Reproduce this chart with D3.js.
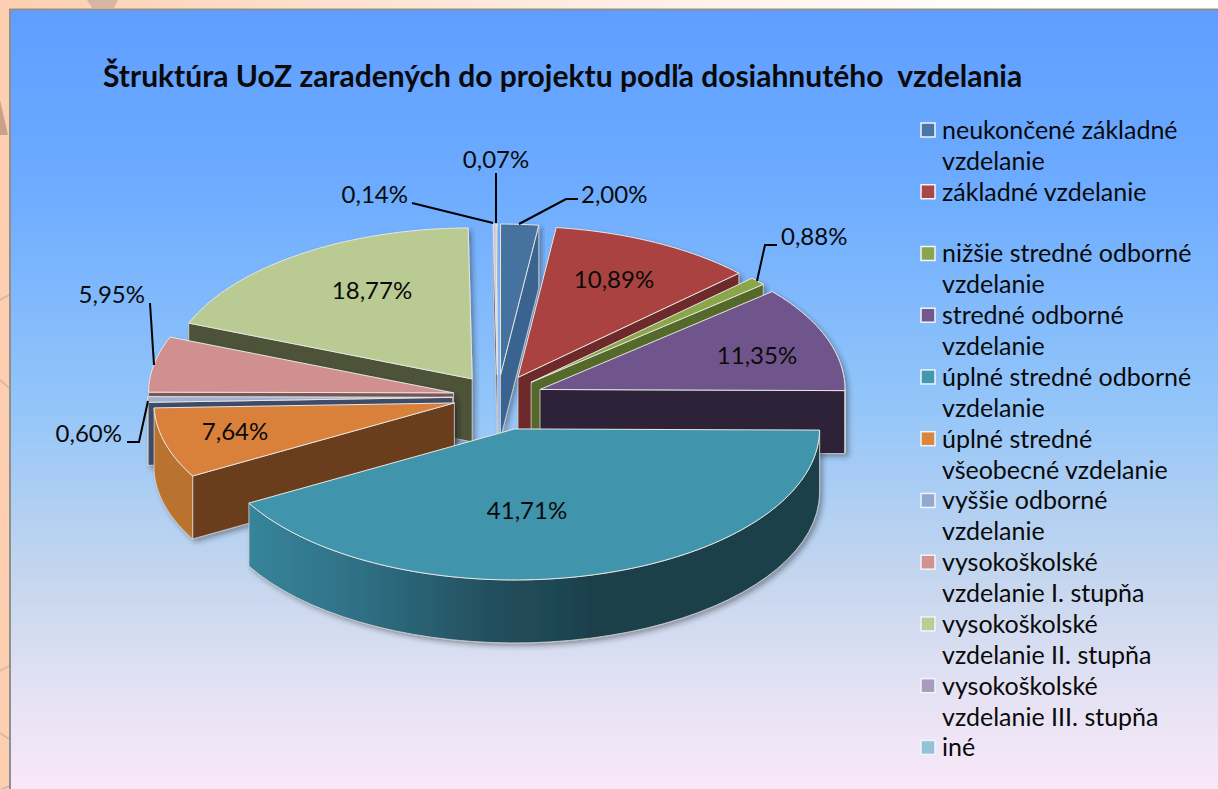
<!DOCTYPE html>
<html><head><meta charset="utf-8">
<script src="https://cdn.jsdelivr.net/npm/d3@7/dist/d3.min.js"></script>
<style>html,body{margin:0;padding:0;background:#fff;overflow:hidden}svg{display:block}text{font-family:Lato,"Open Sans",sans-serif;fill:#0a0a0a}</style>
</head><body><svg id="c" width="1218" height="789"></svg>
<script>
const title = "Štruktúra UoZ zaradených do projektu podľa dosiahnutého  vzdelania";
const categories = ["neukončené základné vzdelanie","základné vzdelanie","nižšie stredné odborné vzdelanie","stredné odborné vzdelanie","úplné stredné odborné vzdelanie","úplné stredné všeobecné vzdelanie","vyššie odborné vzdelanie","vysokoškolské vzdelanie I. stupňa","vysokoškolské vzdelanie II. stupňa","vysokoškolské vzdelanie III. stupňa","iné"];
const values = [2.00,10.89,0.88,11.35,41.71,7.64,0.60,5.95,18.77,0.14,0.07];
const legendLines = [["neukončené základné","vzdelanie"],["základné vzdelanie",""],["nižšie stredné odborné","vzdelanie"],["stredné odborné","vzdelanie"],["úplné stredné odborné","vzdelanie"],["úplné stredné","všeobecné vzdelanie"],["vyššie odborné","vzdelanie"],["vysokoškolské","vzdelanie I. stupňa"],["vysokoškolské","vzdelanie II. stupňa"],["vysokoškolské","vzdelanie III. stupňa"],["iné"]];
const topColors = ["#44729f","#a9433f","#8aa64a","#70548c","#4195ad","#d9813a","#9db0d2","#cf908f","#b9cb93","#c9bedb","#cfe6ee"];
const legendColors = ["#4a76a6","#aa4643","#89a54e","#71588f","#4198af","#db843d","#93a9cf","#d19392","#b9cd96","#a99bbd","#92c4d6"];
const wallColors = ["#3a6390","#6e2b29","#556b2a","#2e2138","#1a3f4a","#6a3c1a","#3f4c68","#7c5757","#4d5338","#5e5270","#567a88"];
const explode = [1,1,1,1,1.5,1,1,1,1,1,1];
const radiusFactor = [1,1,1,1,1,.985,1,1,1,1,1];

const svg = d3.select("#c");
const defs = svg.append("defs");
const W=1218,H=789, cx=497.7, cy=397, rx=305, ry=151, depth=63, ex=45, ey=22;

// page backdrop
const pg = defs.append("linearGradient").attr("id","pg").attr("x1",0).attr("x2",1).attr("y1",0).attr("y2",0);
pg.append("stop").attr("offset",0).attr("stop-color","#fdcfb0");
pg.append("stop").attr("offset",.35).attr("stop-color","#fde6d6");
pg.append("stop").attr("offset",.85).attr("stop-color","#ffffff");
svg.append("rect").attr("width",W).attr("height",H).attr("fill","url(#pg)");
const deco = svg.append("g").attr("fill","none").attr("stroke","#d8b9a2").attr("stroke-width",2);
[[[0,300],[9,295]],[[0,380],[9,388]],[[0,671],[9,666]],[[0,733],[9,739]],[[0,790],[9,786]]].forEach(p=>deco.append("path").attr("d",d3.line()(p)));
svg.append("path").attr("d","M87,0 L118,0 L114,8 L92,8 Z").attr("fill","#d6b6a2");
svg.append("path").attr("d","M0,100 L8,135 L0,135 Z").attr("fill","#c9a28c");

// chart area
const bg = defs.append("linearGradient").attr("id","bg").attr("x1",0).attr("x2",0).attr("y1",0).attr("y2",1);
[[0,"#5f9eff"],[.22,"#6cabff"],[.5,"#93c5f9"],[.72,"#c4d6ee"],[.88,"#e7e3f4"],[1,"#fbe8f9"]].forEach(s=>bg.append("stop").attr("offset",s[0]).attr("stop-color",s[1]));
svg.append("rect").attr("x",10).attr("y",9.5).attr("width",W).attr("height",H).attr("fill","url(#bg)").attr("stroke","#8f8f8f").attr("stroke-width",2);

const sh = defs.append("filter").attr("id","sh").attr("x","-10%").attr("y","-10%").attr("width","125%").attr("height","125%");
sh.append("feDropShadow").attr("dx",3).attr("dy",3).attr("stdDeviation",2.5).attr("flood-color","#223").attr("flood-opacity",.4);

const rim = defs.append("linearGradient").attr("id","rimTeal").attr("gradientUnits","userSpaceOnUse").attr("x1",245).attr("x2",820).attr("y1",0).attr("y2",0);
[[0,"#37859b"],[.2,"#2f7085"],[.42,"#24505f"],[.62,"#1a3f4a"],[1,"#1a3f4a"]].forEach(s=>rim.append("stop").attr("offset",s[0]).attr("stop-color",s[1]));
const rimColors = {4:"url(#rimTeal)",5:"#b9732f",6:"#3f4c68",3:"#2e2138"};

// pie layout: clockwise from 12 o'clock, kept in the data's order
const arcs = d3.pie().sort(null).value(d=>d)(values);
const sx = d3.scaleLinear([-1,1],[-rx,rx]), sy = d3.scaleLinear([-1,1],[-ry,ry]);
const line = d3.line();
const slices = arcs.map((a,i)=>{
  const mid=(a.startAngle+a.endAngle)/2;
  const ox=cx+ex*explode[i]*Math.sin(mid), oy=cy-ey*explode[i]*Math.cos(mid);
  const f=radiusFactor[i];
  const pt=t=>[ox+sx(f*Math.sin(t)), oy+sy(-f*Math.cos(t))];
  return {i,a,ox,oy,pt};
}).sort((p,q)=>p.oy-q.oy);

const gPie = svg.append("g");
slices.forEach(s=>{
  const {i,a,ox,oy,pt}=s;
  const g=gPie.append("g").attr("filter","url(#sh)");
  const wall=(t)=>{const p=pt(t);return [[ox,oy],p,[p[0],p[1]+depth],[ox,oy+depth]];};
  const sa=a.startAngle, ea=a.endAngle;
  const wallStyle=p=>g.append("path").attr("d",line(p)+"Z").attr("fill",wallColors[i]).attr("stroke","#d9d4d0").attr("stroke-width",.8).attr("stroke-linejoin","round");
  if(Math.sin(ea)>0) wallStyle(wall(ea));
  if(Math.sin(sa)<0) wallStyle(wall(sa));
  const lo=Math.max(sa,Math.PI/2), hi=Math.min(ea,Math.PI*1.5);
  if(hi>lo){
    const ts=d3.range(0,41).map(k=>lo+(hi-lo)*k/40);
    const top=ts.map(pt), bot=ts.map(pt).map(p=>[p[0],p[1]+depth]).reverse();
    g.append("path").attr("d",line(top.concat(bot))+"Z").attr("fill",rimColors[i]||wallColors[i]).attr("stroke","#d9d4d0").attr("stroke-width",.8);
  }
  const n=Math.max(2,Math.ceil((ea-sa)*40));
  const ts=d3.range(0,n+1).map(k=>sa+(ea-sa)*k/n);
  g.append("path").attr("d",line([[ox,oy]].concat(ts.map(pt)))+"Z").attr("fill",topColors[i]).attr("stroke","#e6e6e2").attr("stroke-width",1).attr("stroke-linejoin","round");
});

// title
svg.append("text").attr("x",103).attr("y",87).attr("font-size",30).attr("font-weight",700).style("white-space","pre").text(title);

// legend: every entry takes two rows
const legTop=139, legStep=30.87;
const lg=svg.append("g");
legendLines.forEach((ls,i)=>{
  const y=legTop+i*2*legStep;
  lg.append("rect").attr("x",921).attr("y",y-16).attr("width",14).attr("height",14).attr("fill",legendColors[i]).attr("stroke","#f2f4fa").attr("stroke-width",1.5);
  ls.forEach((t,k)=>{ if(t) lg.append("text").attr("x",942).attr("y",y+k*legStep).attr("font-size",25).text(t); });
});
// labels
const fmt=v=>v.toFixed(2).replace(".",",")+"%";
const labelPos=[[581,203,"start"],[614,288,"middle"],[781,245,"start"],[757,364,"middle"],[527,519,"middle"],[235,440,"middle"],[122,442,"end"],[145,303,"end"],[372,299,"middle"],[408,203,"end"],[496,168,"middle"]];
values.forEach((v,i)=>svg.append("text").attr("x",labelPos[i][0]).attr("y",labelPos[i][1]).attr("text-anchor",labelPos[i][2]).attr("font-size",24).text(fmt(v)));
// leader lines
const leaders=[[[519,224],[566,199],[578,199]],[[757,281],[765,245],[777,245]],[[148,401],[139,442],[127,442]],[[154,365],[150,303]],[[493,223],[412,203]],[[496,223],[496,173]]];
leaders.forEach(p=>svg.append("path").attr("d",line(p)).attr("fill","none").attr("stroke","#000").attr("stroke-width",2));
</script></body></html>
